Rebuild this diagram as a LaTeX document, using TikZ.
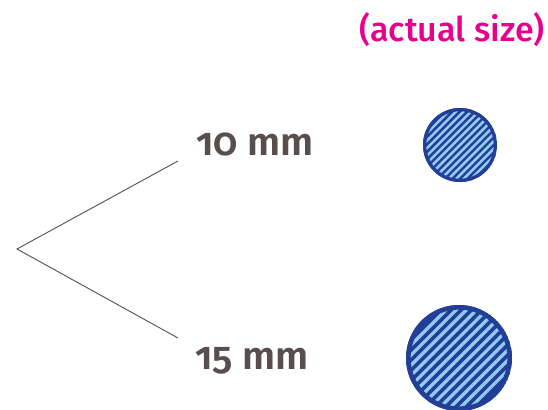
\documentclass[tikz,border=0pt]{standalone}
\usepackage{fontspec}
\setmainfont{Fira Sans}[Numbers=OldStyle, BoldFont={* SemiBold}]
\newfontfamily\titlefont{Fira Sans}[UprightFont={* Medium}]
\usetikzlibrary{positioning}
\definecolor{DiscBlue}{RGB}{34,62,150}
\definecolor{StripeBlue}{RGB}{145,202,242}
\definecolor{LabelGrey}{RGB}{88,78,78}
\definecolor{SizePink}{RGB}{230,0,140}

\begin{document}
\begin{tikzpicture}[x=1pt,y=-1pt]
    \useasboundingbox (0,0) rectangle (548,409);
    \tikzset{sizelabel/.style={font=\fontsize{39}{44}\selectfont\bfseries, text=LabelGrey, anchor=base west, inner sep=0pt}}

    % Titulo
    \node[font=\fontsize{34}{40}\selectfont\titlefont, text=SizePink, anchor=base east, inner sep=0pt] (title) at (545,42) {(actual size)};

    % Etiquetas
    \node[sizelabel] (ten) at (196,155) {10 mm};
    \node[sizelabel] (fifteen) at (195,369) {15 mm};

    % Horquilla
    \coordinate (fork) at (17,249);
    \coordinate (upend) at (178,161);
    \coordinate (downend) at (178,338);
    \draw[LabelGrey, line width=0.9] (upend) -- (fork) -- (downend);

    % Disco 10 mm
    \begin{scope}[shift={(460,145)}]
        \fill[DiscBlue] (0,0) circle (37);
        \clip (0,0) circle (37);
        \foreach \k in {-10,...,10}
            \draw[StripeBlue, line width=2.5] ({\k*5.3/sqrt(2)-60},{\k*5.3/sqrt(2)+60}) -- ({\k*5.3/sqrt(2)+60},{\k*5.3/sqrt(2)-60});
        \draw[DiscBlue, line width=3.3] (0,0) circle (35.35);
    \end{scope}

    % Disco 15 mm
    \begin{scope}[shift={(459,358)}]
        \fill[DiscBlue] (0,0) circle (53);
        \clip (0,0) circle (53);
        \foreach \k in {-12,...,12}
            \draw[StripeBlue, line width=3.3] ({\k*7.2/sqrt(2)-80},{\k*7.2/sqrt(2)+80}) -- ({\k*7.2/sqrt(2)+80},{\k*7.2/sqrt(2)-80});
        \draw[DiscBlue, line width=4.6] (0,0) circle (50.7);
    \end{scope}
\end{tikzpicture}
\end{document}
